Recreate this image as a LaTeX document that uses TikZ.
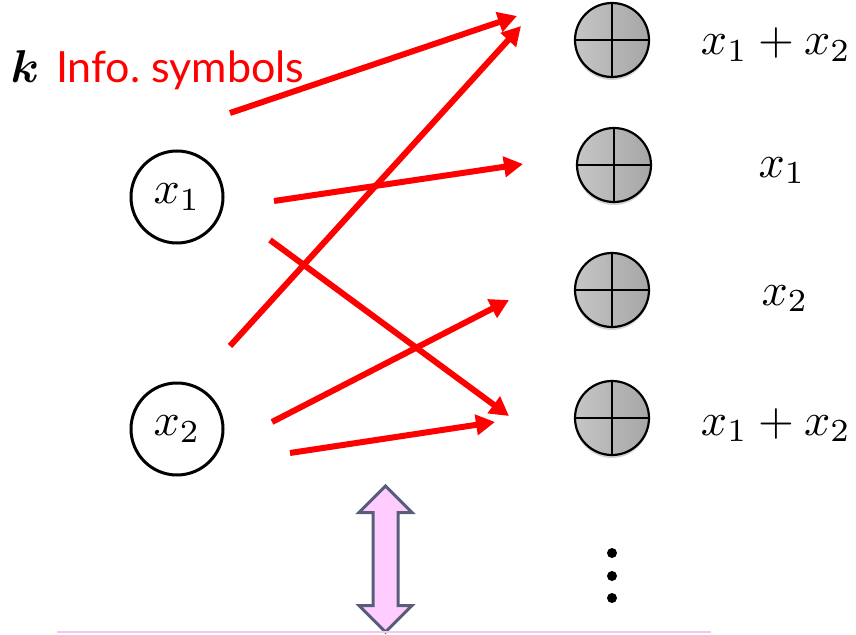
\documentclass[tikz,border=0pt]{standalone}
\usepackage{amsmath,bm}
\usepackage{fontspec}
\usepackage{tikz}
\usetikzlibrary{shapes.arrows, shadows, arrows.meta, positioning}
\newfontfamily\infofont{Lato}
\definecolor{arrowred}{RGB}{255,0,0}
\definecolor{slateedge}{RGB}{88,93,122}
\definecolor{softpink}{RGB}{255,204,255}
\definecolor{linepink}{RGB}{240,200,240}
\newcommand{\bigmath}[1]{\scalebox{4.6}{$#1$}}

\begin{document}
\begin{tikzpicture}[
    x=1pt, y=-1pt,
    source/.style={
        circle,
        draw,
        line width=3pt,
        minimum size=92pt,
        inner sep=0pt
    },
    parity/.style={
        circle,
        draw,
        line width=2.2pt,
        minimum size=74pt,
        inner sep=0pt,
        left color=gray!45, right color=gray!70,
        drop shadow={opacity=0.35, shadow xshift=0pt, shadow yshift=-3pt},
        path picture={
            \draw[line width=2.2pt] (path picture bounding box.north) -- (path picture bounding box.south)
                (path picture bounding box.west) -- (path picture bounding box.east);
        }
    },
    sumlabel/.style={anchor=base, inner sep=0pt},
    arrow/.style={line width=6pt, draw=arrowred, -{Triangle[length=19pt,width=20pt]}},
    bothways/.style={
        double arrow,
        rotate=90,
        draw=slateedge,
        fill=softpink,
        line width=3pt,
        minimum height=146pt,
        inner sep=11pt,
        double arrow head extend=14pt
    }
]
\useasboundingbox (0,0) rectangle (856,634);

% Title
\node (k) [anchor=base, inner sep=0pt] at (25,82) {\bigmath{\bm{k}}};
\node (info) [anchor=base west, text=arrowred, font=\infofont\fontsize{43}{46}\selectfont, inner sep=0pt] at (56,82) {Info.\ symbols};

% Source symbols
\node (x1) [source] at (177,197) {\bigmath{x_1}};
\node (x2) [source] at (177,429) {\bigmath{x_2}};

% Encoded symbols
\node (p1) [parity] at (612,40) {};
\node (p2) [parity] at (614,165) {};
\node (p3) [parity] at (612,290) {};
\node (p4) [parity] at (612,418) {};

\node (l1) [sumlabel] at (776,55) {\bigmath{x_1+x_2}};
\node (l2) [sumlabel] at (782,177) {\bigmath{x_1}};
\node (l3) [sumlabel] at (785,305) {\bigmath{x_2}};
\node (l4) [sumlabel] at (776,435) {\bigmath{x_1+x_2}};

% Arrow ends
\coordinate (s1) at (230,113);
\coordinate (s2) at (230,346);
\coordinate (s3) at (274,201);
\coordinate (s4) at (270,240);
\coordinate (s5) at (272,422);
\coordinate (s6) at (290,453);
\coordinate (t1) at (517,16);
\coordinate (t2) at (521,26);
\coordinate (t3) at (523,164);
\coordinate (t4) at (509,416);
\coordinate (t5) at (509,300);
\coordinate (t6) at (495,422);

% Arrows
\draw [arrow] (s1) -- (t1);
\draw [arrow] (s2) -- (t2);
\draw [arrow] (s3) -- (t3);
\draw [arrow] (s4) -- (t4);
\draw [arrow] (s5) -- (t5);
\draw [arrow] (s6) -- (t6);

% Bottom
\node (link) [bothways] at (385.5,559) {};
\foreach \y in {553,576,598}
    \fill (612,\y) circle (5pt);
\coordinate (rule-l) at (57,632);
\coordinate (rule-r) at (711,632);
\draw [linepink, line width=1.5pt] (rule-l) -- (rule-r);

\end{tikzpicture}
\end{document}
